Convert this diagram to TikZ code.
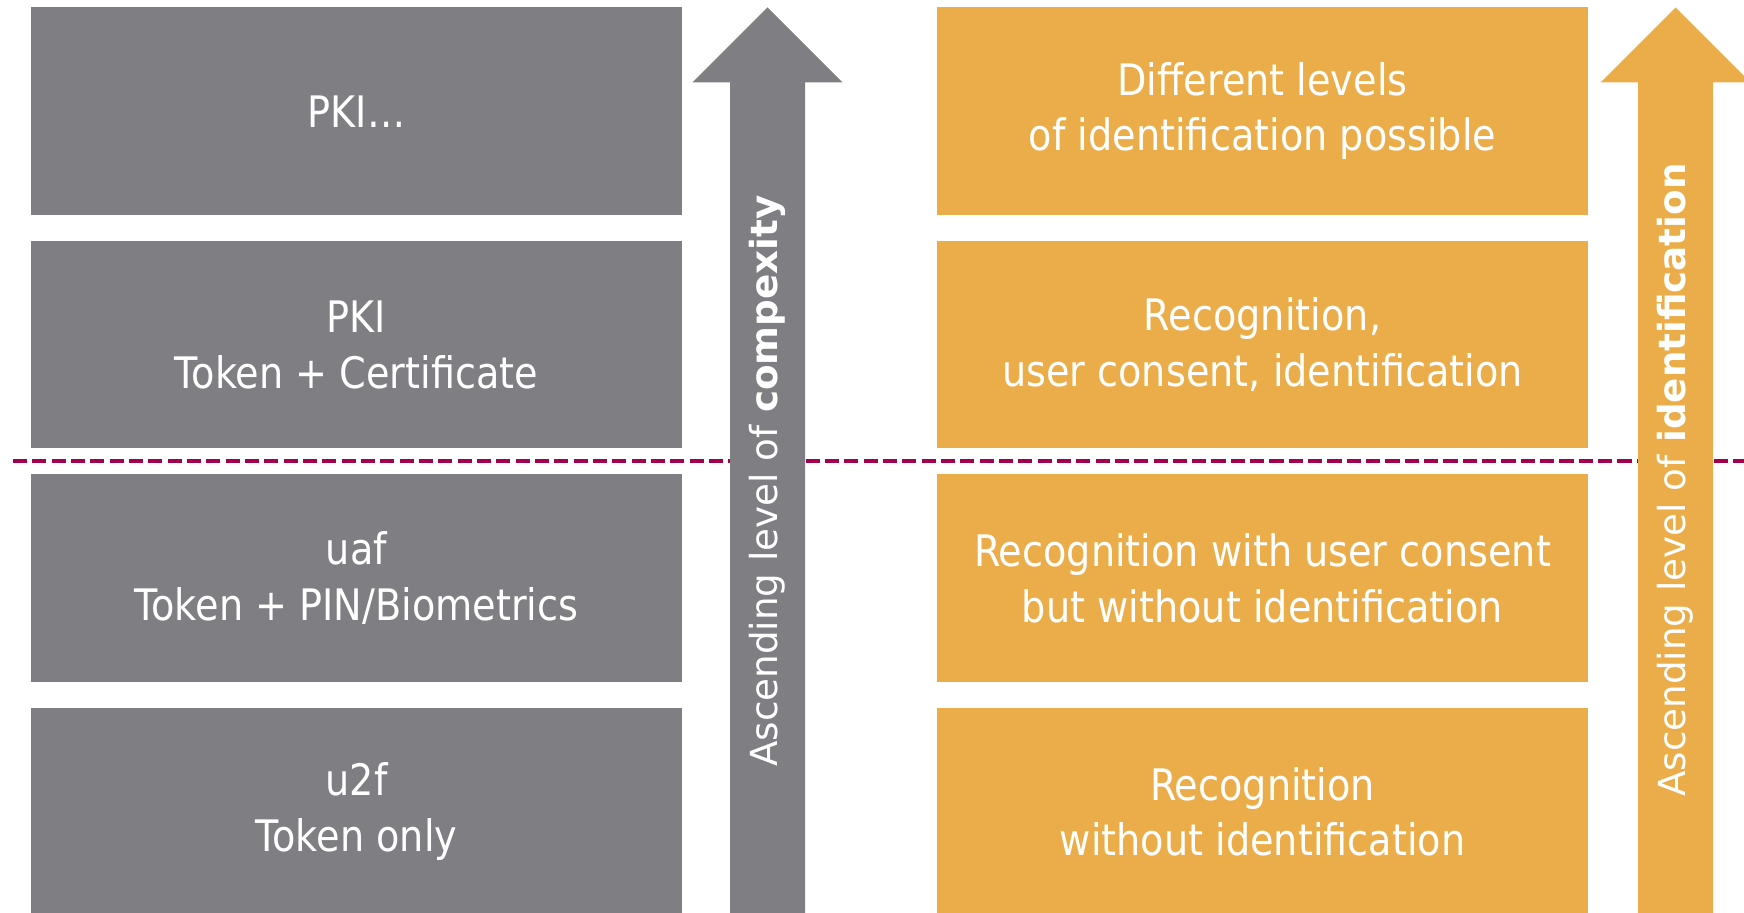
\documentclass[tikz,border=0pt]{standalone}
\usepackage{fontspec}
\setmainfont{DejaVu Sans}
\newfontfamily\boxfont{DejaVu Sans}[FakeStretch=0.88]
\usepackage{tikz}

\definecolor{levelgray}{RGB}{127,127,131}
\definecolor{levelorange}{RGB}{235,173,74}
\definecolor{splitred}{RGB}{163,0,78}

\begin{document}
\begin{tikzpicture}[
    levelbox/.style={minimum width=6.51cm, minimum height=2.075cm, inner sep=0pt,
      align=center, text=white, font=\boxfont\fontsize{12.35}{15.8}\selectfont},
    graybox/.style={levelbox, fill=levelgray},
    orangebox/.style={levelbox, fill=levelorange},
    arrowtext/.style={rotate=90, text=white, inner sep=0pt, font=\fontsize{10.6}{12}\selectfont}
  ]
    \useasboundingbox (0,0) rectangle (17.44,9.13);

    % Split line between the upper and lower levels
    \coordinate (splitL) at (0.13,4.52);
    \coordinate (splitR) at (17.44,4.52);
    \draw[splitred, line width=1.3pt, dash pattern=on 4pt off 1.5pt] (splitL) -- (splitR);

    % Arrows
    \fill[levelgray] (7.30,-0.1) -- (7.30,8.305) -- (6.925,8.305) -- (7.675,9.055) -- (8.425,8.305) -- (8.05,8.305) -- (8.05,-0.1) -- cycle; % complexity arrow
    \fill[levelorange] (16.38,-0.1) -- (16.38,8.305) -- (16.005,8.305) -- (16.755,9.055) -- (17.505,8.305) -- (17.13,8.305) -- (17.13,-0.1) -- cycle; % identification arrow
    \node[arrowtext] (cplxlabel) at (7.675,4.32) {Ascending level of \textbf{compexity}};
    \node[arrowtext] (idlabel) at (16.755,4.33) {Ascending level of \textbf{identification}};

    % Gray column
    \node[graybox] (pkimore) at (3.565,8.0175) {PKI…};
    \node[graybox] (pki) at (3.565,5.6825) {PKI\\Token + Certificate};
    \node[graybox] (uaf) at (3.565,3.3475) {uaf\\Token + PIN/Biometrics};
    \node[graybox] (utwof) at (3.565,1.0125) {u2f\\Token only};

    % Orange column
    \node[orangebox] (idlevels) at (12.625,8.0175) {Different levels\\of identification possible};
    \node[orangebox] (idconsent) at (12.625,5.6825) {Recognition,\\user consent, identification};
    \node[orangebox] (consent) at (12.625,3.3475) {Recognition with user consent\\but without identification};
    \node[orangebox] (recog) at (12.625,1.0125) {Recognition\\without identification};
\end{tikzpicture}
\end{document}
